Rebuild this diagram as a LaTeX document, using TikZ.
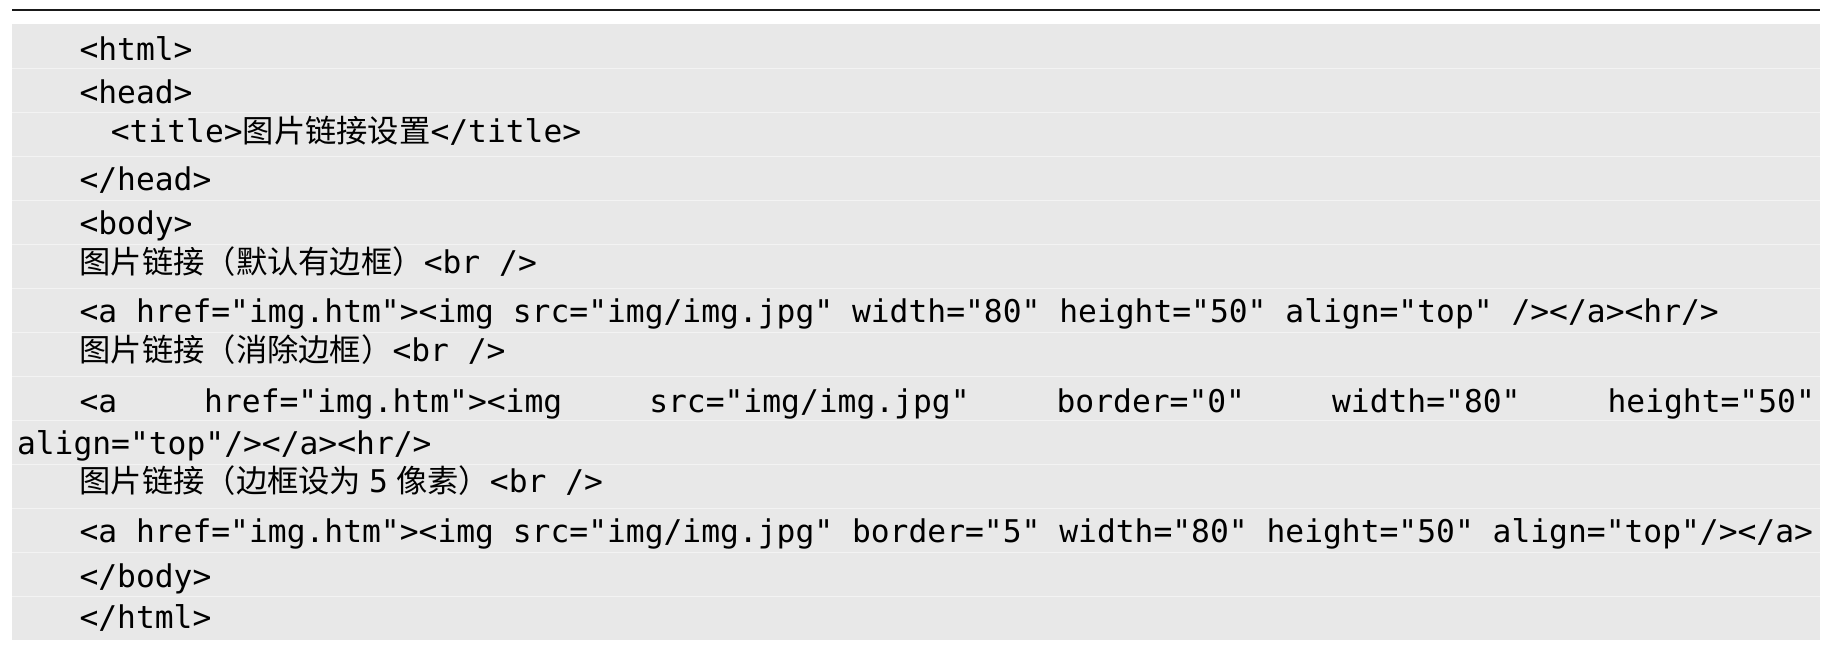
\documentclass[tikz,border=0pt]{standalone}
\usepackage{fontspec}
\setmonofont{DejaVu Sans Mono}
\newfontfamily\cjk{Noto Sans CJK SC}
\definecolor{bandgrey}{HTML}{E8E8E8}
\definecolor{sepline}{HTML}{F3F3F3}
\definecolor{rulecol}{HTML}{1A1A1A}
\begin{document}
\begin{tikzpicture}[x=1pt,y=-1pt,
  code/.style={anchor=base west, inner sep=0pt, outer sep=0pt,
    font=\fontsize{31.3}{36}\selectfont\ttfamily, text=black}]
\useasboundingbox (0,0) rectangle (1837,651);
% background band and row separators
\fill[bandgrey] (12,24) rectangle (1820,640);
\foreach \k in {1,...,13}
  \draw[sepline, line width=1pt] (12,24+44*\k) -- (1820,24+44*\k);
% top rule
\draw[rulecol, line width=2pt] (12,10) -- (1820,10);
% code lines
\node[code] (l1)  at (79.5,60)    {<html>};
\node[code] (l2)  at (79.5,103.7) {<head>};
\node[code] (l3)  at (110.8,142.4) {<title>{\cjk 图片链接设置}</title>};
\node[code] (l4)  at (79.5,190)   {</head>};
\node[code] (l5)  at (79.5,234.5) {<body>};
\node[code] (l6)  at (79.5,273.5) {{\cjk 图片链接（默认有边框）}<br />};
\node[code] (l7)  at (79.5,322.5) {<a href="img.htm"><img src="img/img.jpg" width="80" height="50" align="top" /></a><hr/>};
\node[code] (l8)  at (79.5,361)   {{\cjk 图片链接（消除边框）}<br />};
\node[code] (l9)  at (79.5,412)   {\hbox to 1735.5pt{<a\hfill href="img.htm"><img\hfill src="img/img.jpg"\hfill border="0"\hfill width="80"\hfill height="50"}};
\node[code] (l10) at (17,454)     {align="top"/></a><hr/>};
\node[code] (l11) at (79.5,492.5) {{\cjk 图片链接（边框设为}\hspace{8pt}5\hspace{8pt}{\cjk 像素）}<br />};
\node[code] (l12) at (79.5,542.5) {<a href="img.htm"><img src="img/img.jpg" border="5" width="80" height="50" align="top"/></a>};
\node[code] (l13) at (79.5,587.5) {</body>};
\node[code] (l14) at (79.5,628)   {</html>};
\end{tikzpicture}
\end{document}
